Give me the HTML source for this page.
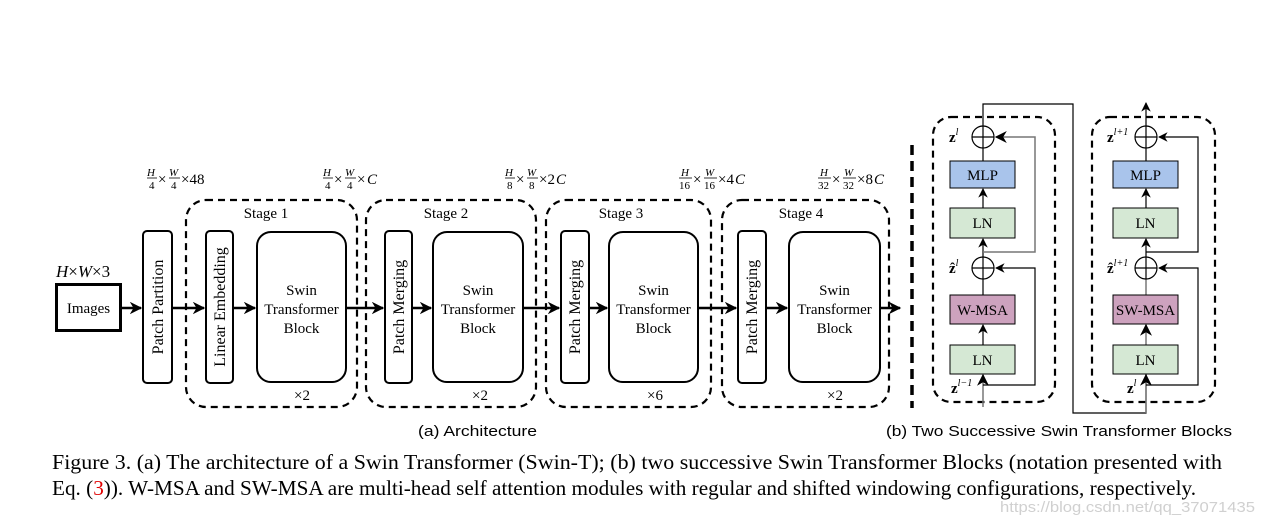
<!DOCTYPE html>
<html><head><meta charset="utf-8"><style>
html,body{margin:0;padding:0;background:#fff;}
svg{display:block;}
text{font-family:"Liberation Serif",serif;fill:#000;}
.s{font-family:"Liberation Sans",sans-serif;}
</style></head><body>
<svg width="1264" height="524" viewBox="0 0 1264 524" xmlns="http://www.w3.org/2000/svg">
<defs>
<marker id="ab" viewBox="0 0 10 10" refX="9" refY="5" markerWidth="5" markerHeight="5" orient="auto"><path d="M0,0 L10,5 L0,10 L3,5z" fill="#000"/></marker>
<marker id="as" viewBox="0 0 10 10" refX="9" refY="5" markerWidth="8" markerHeight="8" orient="auto"><path d="M0,0 L10,5 L0,10 L3,5z" fill="#000"/></marker>
</defs>

<g font-size="15" font-style="italic">
<g transform="translate(147,0)">
<text x="0" y="176" font-size="11">H</text><line x1="0" y1="178" x2="10" y2="178" stroke="#000" stroke-width="0.8"/><text x="2" y="189" font-size="11" font-style="normal">4</text>
<text x="11" y="184" font-style="normal">×</text>
<text x="22" y="176" font-size="11">W</text><line x1="22" y1="178" x2="33" y2="178" stroke="#000" stroke-width="0.8"/><text x="24" y="189" font-size="11" font-style="normal">4</text>
<text x="34" y="184" font-style="normal">×48</text></g>
<g transform="translate(323,0)">
<text x="0" y="176" font-size="11">H</text><line x1="0" y1="178" x2="10" y2="178" stroke="#000" stroke-width="0.8"/><text x="2" y="189" font-size="11" font-style="normal">4</text>
<text x="11" y="184" font-style="normal">×</text>
<text x="22" y="176" font-size="11">W</text><line x1="22" y1="178" x2="33" y2="178" stroke="#000" stroke-width="0.8"/><text x="24" y="189" font-size="11" font-style="normal">4</text>
<text x="34" y="184" font-style="normal">×</text><text x="44" y="184">C</text></g>
<g transform="translate(505,0)">
<text x="0" y="176" font-size="11">H</text><line x1="0" y1="178" x2="10" y2="178" stroke="#000" stroke-width="0.8"/><text x="2" y="189" font-size="11" font-style="normal">8</text>
<text x="11" y="184" font-style="normal">×</text>
<text x="22" y="176" font-size="11">W</text><line x1="22" y1="178" x2="33" y2="178" stroke="#000" stroke-width="0.8"/><text x="24" y="189" font-size="11" font-style="normal">8</text>
<text x="34" y="184" font-style="normal">×2</text><text x="51" y="184">C</text></g>
<g transform="translate(679,0)">
<text x="2" y="176" font-size="11">H</text><line x1="0" y1="178" x2="13" y2="178" stroke="#000" stroke-width="0.8"/><text x="0" y="189" font-size="11" font-style="normal">16</text>
<text x="14" y="184" font-style="normal">×</text>
<text x="26" y="176" font-size="11">W</text><line x1="25" y1="178" x2="38" y2="178" stroke="#000" stroke-width="0.8"/><text x="25" y="189" font-size="11" font-style="normal">16</text>
<text x="39" y="184" font-style="normal">×4</text><text x="56" y="184">C</text></g>
<g transform="translate(818,0)">
<text x="2" y="176" font-size="11">H</text><line x1="0" y1="178" x2="13" y2="178" stroke="#000" stroke-width="0.8"/><text x="0" y="189" font-size="11" font-style="normal">32</text>
<text x="14" y="184" font-style="normal">×</text>
<text x="26" y="176" font-size="11">W</text><line x1="25" y1="178" x2="38" y2="178" stroke="#000" stroke-width="0.8"/><text x="25" y="189" font-size="11" font-style="normal">32</text>
<text x="39" y="184" font-style="normal">×8</text><text x="56" y="184">C</text></g>
</g>

<text x="56" y="277" font-size="17"><tspan font-style="italic">H</tspan>×<tspan font-style="italic">W</tspan>×3</text>

<g stroke="#000" stroke-width="2.5" fill="none">
<line x1="122" y1="308" x2="141" y2="308" marker-end="url(#ab)"/>
<line x1="172" y1="308" x2="204" y2="308" marker-end="url(#ab)"/>
<line x1="233" y1="308" x2="255" y2="308" marker-end="url(#ab)"/>
<line x1="346" y1="308" x2="383" y2="308" marker-end="url(#ab)"/>
<line x1="412" y1="308" x2="431" y2="308" marker-end="url(#ab)"/>
<line x1="523" y1="308" x2="559" y2="308" marker-end="url(#ab)"/>
<line x1="589" y1="308" x2="607" y2="308" marker-end="url(#ab)"/>
<line x1="698" y1="308" x2="736" y2="308" marker-end="url(#ab)"/>
<line x1="766" y1="308" x2="787" y2="308" marker-end="url(#ab)"/>
<line x1="880" y1="308" x2="900" y2="308" marker-end="url(#ab)"/>
</g>

<rect x="56.5" y="284.5" width="64" height="46" fill="#fff" stroke="#000" stroke-width="3"/>
<text x="88.5" y="313" font-size="15" text-anchor="middle">Images</text>

<g fill="none" stroke="#000" stroke-width="2.2" stroke-dasharray="7,5">
<rect x="186" y="200" width="171" height="207" rx="20"/>
<rect x="366" y="200" width="170" height="207" rx="20"/>
<rect x="546" y="200" width="165" height="207" rx="20"/>
<rect x="722" y="200" width="167" height="207" rx="20"/>
</g>
<g font-size="15" text-anchor="middle">
<text x="266" y="218">Stage 1</text>
<text x="446" y="218">Stage 2</text>
<text x="621" y="218">Stage 3</text>
<text x="801" y="218">Stage 4</text>
<text x="302" y="400">×2</text>
<text x="480" y="400">×2</text>
<text x="655" y="400">×6</text>
<text x="835" y="400">×2</text>
</g>

<g fill="#fff" stroke="#000" stroke-width="2">
<rect x="143" y="231" width="29" height="152" rx="4"/>
<rect x="206" y="231" width="27" height="152" rx="4"/>
<rect x="385" y="231" width="27" height="152" rx="4"/>
<rect x="561" y="231" width="28" height="152" rx="4"/>
<rect x="738" y="231" width="28" height="152" rx="4"/>
<rect x="257" y="232" width="89" height="150" rx="14"/>
<rect x="433" y="232" width="90" height="150" rx="14"/>
<rect x="609" y="232" width="89" height="150" rx="14"/>
<rect x="789" y="232" width="91" height="150" rx="14"/>
</g>
<g font-size="16" text-anchor="middle">
<text transform="translate(163,307) rotate(-90)">Patch Partition</text>
<text transform="translate(225,307) rotate(-90)">Linear Embedding</text>
<text transform="translate(404,307) rotate(-90)">Patch Merging</text>
<text transform="translate(580,307) rotate(-90)">Patch Merging</text>
<text transform="translate(757,307) rotate(-90)">Patch Merging</text>
</g>
<g font-size="15" text-anchor="middle">
<text x="301.5" y="295">Swin</text><text x="301.5" y="314">Transformer</text><text x="301.5" y="333">Block</text>
<text x="478" y="295">Swin</text><text x="478" y="314">Transformer</text><text x="478" y="333">Block</text>
<text x="653.5" y="295">Swin</text><text x="653.5" y="314">Transformer</text><text x="653.5" y="333">Block</text>
<text x="834.5" y="295">Swin</text><text x="834.5" y="314">Transformer</text><text x="834.5" y="333">Block</text>
</g>

<line x1="912" y1="145" x2="912" y2="408" stroke="#000" stroke-width="3.5" stroke-dasharray="10,6"/>

<g fill="none" stroke="#000" stroke-width="2.2" stroke-dasharray="7,5">
<rect x="933" y="117" width="122" height="285" rx="18"/>
<rect x="1092" y="117" width="123" height="285" rx="18"/>
</g>

<g fill="none" stroke-width="1.2">
<polyline points="983,126 983,104 1073,104 1073,413 1146,413 1146,374" stroke="#000"/>
<line x1="983" y1="407" x2="983" y2="375" stroke="#777" stroke-width="1.5" marker-end="url(#as)"/>
<polyline points="983,385 1035,385 1035,268 996,268" stroke="#000" marker-end="url(#as)"/>
<line x1="983" y1="345" x2="983" y2="325" stroke="#000" marker-end="url(#as)"/>
<line x1="983" y1="295" x2="983" y2="279" stroke="#000"/>
<line x1="983" y1="257" x2="983" y2="239" stroke="#000" marker-end="url(#as)"/>
<polyline points="983,252 1035,252 1035,137 996,137" stroke="#777" stroke-width="1.5" marker-end="url(#as)"/>
<line x1="983" y1="208" x2="983" y2="189" stroke="#000" marker-end="url(#as)"/>
<line x1="983" y1="161" x2="983" y2="148" stroke="#000"/>
<line x1="1146" y1="413" x2="1146" y2="375" stroke="#777" stroke-width="1.5" marker-end="url(#as)"/>
<polyline points="1146,385 1198,385 1198,268 1159,268" stroke="#000" marker-end="url(#as)"/>
<line x1="1146" y1="345" x2="1146" y2="325" stroke="#777" stroke-width="1.5" marker-end="url(#as)"/>
<line x1="1146" y1="295" x2="1146" y2="279" stroke="#777" stroke-width="1.5"/>
<line x1="1146" y1="257" x2="1146" y2="239" stroke="#000" marker-end="url(#as)"/>
<polyline points="1146,252 1198,252 1198,137 1159,137" stroke="#000" marker-end="url(#as)"/>
<line x1="1146" y1="208" x2="1146" y2="189" stroke="#000" marker-end="url(#as)"/>
<line x1="1146" y1="161" x2="1146" y2="148" stroke="#000"/>
<line x1="1146" y1="126" x2="1146" y2="103" stroke="#000" marker-end="url(#as)"/>
</g>

<g fill="#fff" stroke="#000" stroke-width="1.2">
<circle cx="983" cy="137" r="11"/><circle cx="983" cy="268" r="11"/>
<circle cx="1146" cy="137" r="11"/><circle cx="1146" cy="268" r="11"/>
</g>
<g stroke="#000" stroke-width="1.2">
<line x1="972" y1="137" x2="994" y2="137"/><line x1="983" y1="126" x2="983" y2="148"/>
<line x1="972" y1="268" x2="994" y2="268"/><line x1="983" y1="257" x2="983" y2="279"/>
<line x1="1135" y1="137" x2="1157" y2="137"/><line x1="1146" y1="126" x2="1146" y2="148"/>
<line x1="1135" y1="268" x2="1157" y2="268"/><line x1="1146" y1="257" x2="1146" y2="279"/>
</g>

<g stroke="#000" stroke-width="1">
<rect x="950" y="161" width="65" height="27" fill="#a9c4eb"/>
<rect x="950" y="208" width="65" height="30" fill="#d5e8d4"/>
<rect x="950" y="295" width="65" height="29" fill="#cda2be"/>
<rect x="950" y="345" width="65" height="29" fill="#d5e8d4"/>
<rect x="1113" y="161" width="65" height="27" fill="#a9c4eb"/>
<rect x="1113" y="208" width="65" height="30" fill="#d5e8d4"/>
<rect x="1113" y="295" width="65" height="29" fill="#cda2be"/>
<rect x="1113" y="345" width="65" height="29" fill="#d5e8d4"/>
</g>
<g font-size="15" text-anchor="middle">
<text x="982.5" y="180">MLP</text><text x="982.5" y="228">LN</text>
<text x="982.5" y="315">W-MSA</text><text x="982.5" y="365">LN</text>
<text x="1145.5" y="180">MLP</text><text x="1145.5" y="228">LN</text>
<text x="1145.5" y="315">SW-MSA</text><text x="1145.5" y="365">LN</text>
</g>
<g font-size="15" font-weight="bold">
<text x="949" y="142">z<tspan font-size="10" font-weight="normal" font-style="italic" dy="-7">l</tspan></text>
<text x="949" y="273">ẑ<tspan font-size="10" font-weight="normal" font-style="italic" dy="-7">l</tspan></text>
<text x="951" y="393">z<tspan font-size="10" font-weight="normal" font-style="italic" dy="-7">l−1</tspan></text>
<text x="1107" y="142">z<tspan font-size="10" font-weight="normal" font-style="italic" dy="-7">l+1</tspan></text>
<text x="1107" y="273">ẑ<tspan font-size="10" font-weight="normal" font-style="italic" dy="-7">l+1</tspan></text>
<text x="1127" y="393">z<tspan font-size="10" font-weight="normal" font-style="italic" dy="-7">l</tspan></text>
</g>

<text class="s" x="418" y="436" font-size="15" textLength="119" lengthAdjust="spacingAndGlyphs">(a) Architecture</text>
<text class="s" x="886" y="436" font-size="15" textLength="346" lengthAdjust="spacingAndGlyphs">(b) Two Successive Swin Transformer Blocks</text>
<text x="52" y="469" font-size="21" textLength="1170" lengthAdjust="spacingAndGlyphs">Figure 3. (a) The architecture of a Swin Transformer (Swin-T); (b) two successive Swin Transformer Blocks (notation presented with</text>
<text x="52" y="495" font-size="21" textLength="1144" lengthAdjust="spacingAndGlyphs">Eq. (<tspan fill="#e00000">3</tspan>)). W-MSA and SW-MSA are multi-head self attention modules with regular and shifted windowing configurations, respectively.</text>
<text class="s" x="1000" y="512" font-size="15" style="fill:#d0d0d0" textLength="255" lengthAdjust="spacingAndGlyphs">https://blog.csdn.net/qq_37071435</text>
</svg>
</body></html>
